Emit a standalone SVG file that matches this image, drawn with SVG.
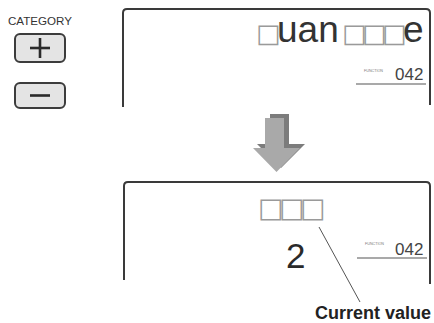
<svg xmlns="http://www.w3.org/2000/svg" width="434" height="323" viewBox="0 0 434 323">
<style>
.frame{fill:none;stroke:#3a3a3a;stroke-width:2;stroke-linejoin:round}
.btn{fill:#e4e4e4;stroke:#3c3c3c;stroke-width:2}
.sign{stroke:#2a2a2a;stroke-width:2.6;stroke-linecap:butt}
.lbl{font-family:"Liberation Sans",Arial,sans-serif}
.tofu{font-family:"DejaVu Sans",sans-serif;fill:#9a9a9a}
.big{font-size:37px;fill:#333}
.num{font-size:17px;fill:#444}
.tiny{font-size:3.6px;fill:#777}
.uline{stroke:#555;stroke-width:1.2}
</style>
<rect width="434" height="323" fill="#ffffff"/>
<g id="category">
<text class="lbl" x="8" y="25" font-size="11" fill="#333" textLength="64" lengthAdjust="spacingAndGlyphs">CATEGORY</text>
</g>
<g id="btn-plus">
<rect class="btn" x="15" y="34" width="50" height="28" rx="5"/>
<line class="sign" x1="30" y1="48" x2="50" y2="48"/>
<line class="sign" x1="40" y1="38" x2="40" y2="58"/>
</g>
<g id="btn-minus">
<rect class="btn" x="15" y="83" width="50" height="25" rx="5"/>
<line class="sign" x1="30" y1="95.5" x2="50" y2="95.5"/>
</g>
<g id="display-top">
<path class="frame" d="M123,107 V13 Q123,9 127,9 H426 Q430,9 430,13 V105"/>
<text class="lbl big" y="42"><tspan class="tofu" font-size="26" x="256">□</tspan><tspan x="277">uan</tspan><tspan class="tofu" font-size="26" x="342">□</tspan><tspan class="tofu" font-size="26" x="362">□</tspan><tspan class="tofu" font-size="26" x="382">□</tspan><tspan x="403">e</tspan></text>
<text class="lbl tiny" x="364" y="72" textLength="19" lengthAdjust="spacingAndGlyphs">FUNCTION</text>
<text class="lbl num" x="395" y="80">042</text>
<line class="uline" x1="356" y1="84" x2="426" y2="84"/>
</g>
<g id="arrow">
<polygon fill="#7c7c7c" points="270,114 289,114 289,144 305,144 281,168 257,144 270,144"/>
<polygon fill="#a9a9a9" points="265,118 284,118 284,148 300,148 276.5,172 253,148 265,148"/>
</g>
<g id="display-bottom">
<path class="frame" d="M124,280 V186 Q124,182 128,182 H426 Q430,182 430,186 V284"/>
<text class="tofu" font-size="27" y="217"><tspan x="258">□</tspan><tspan x="279">□</tspan><tspan x="300">□</tspan></text>
<text class="lbl" x="286" y="268" font-size="35" fill="#2a2a2a">2</text>
<text class="lbl tiny" x="365" y="245" textLength="19" lengthAdjust="spacingAndGlyphs">FUNCTION</text>
<text class="lbl num" x="395" y="255">042</text>
<line class="uline" x1="357" y1="258" x2="427" y2="258"/>
</g>
<g id="connectors">
<line x1="319" y1="227" x2="360" y2="302" stroke="#555" stroke-width="1"/>
</g>
<g id="label-current">
<text class="lbl" x="315" y="319" font-size="18" font-weight="bold" fill="#222">Current value</text>
</g>
</svg>
